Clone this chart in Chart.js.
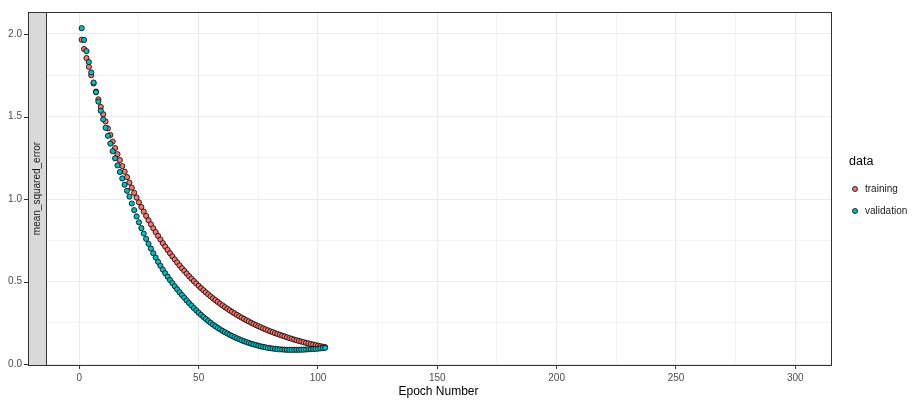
<!DOCTYPE html>
<html>
<head>
<meta charset="utf-8">
<script src="https://cdn.jsdelivr.net/npm/chart.js@4/dist/chart.umd.min.js"></script>
<style>
html, body { margin: 0; padding: 0; background: #fff; }
#wrap { width: 917px; height: 403px; }
</style>
</head>
<body>
<div id="wrap"><canvas id="chart" width="917" height="403"></canvas></div>
<script>
// values, epoch 1 .. 103
var trainingLoss = [
    1.965, 1.909, 1.854, 1.801, 1.750, 1.700, 1.651, 1.604, 1.558, 1.514,
    1.470, 1.428, 1.388, 1.348, 1.309, 1.272, 1.236, 1.200, 1.166, 1.133,
    1.100, 1.069, 1.038, 1.009, 0.980, 0.952, 0.924, 0.898, 0.872, 0.847,
    0.823, 0.800, 0.777, 0.755, 0.733, 0.712, 0.692, 0.672, 0.653, 0.634,
    0.616, 0.598, 0.581, 0.565, 0.549, 0.533, 0.518, 0.503, 0.489, 0.475,
    0.461, 0.448, 0.435, 0.423, 0.411, 0.399, 0.388, 0.377, 0.366, 0.356,
    0.345, 0.336, 0.326, 0.317, 0.308, 0.299, 0.290, 0.282, 0.274, 0.266,
    0.259, 0.251, 0.244, 0.237, 0.230, 0.224, 0.217, 0.211, 0.205, 0.199,
    0.194, 0.188, 0.183, 0.178, 0.173, 0.168, 0.163, 0.158, 0.154, 0.149,
    0.145, 0.141, 0.137, 0.133, 0.129, 0.126, 0.122, 0.119, 0.115, 0.112,
    0.109, 0.106, 0.103
];
var validationLoss = [
    2.035, 1.964, 1.896, 1.830, 1.767, 1.706, 1.647, 1.590, 1.535, 1.483,
    1.432, 1.383, 1.336, 1.290, 1.247, 1.204, 1.164, 1.125, 1.087, 1.050,
    1.015, 0.973, 0.933, 0.895, 0.859, 0.824, 0.791, 0.759, 0.729, 0.700,
    0.672, 0.646, 0.620, 0.596, 0.573, 0.551, 0.530, 0.510, 0.491, 0.472,
    0.454, 0.436, 0.419, 0.402, 0.386, 0.370, 0.355, 0.340, 0.326, 0.312,
    0.299, 0.286, 0.274, 0.262, 0.251, 0.240, 0.230, 0.220, 0.211, 0.202,
    0.194, 0.186, 0.178, 0.171, 0.164, 0.157, 0.151, 0.145, 0.139, 0.134,
    0.129, 0.124, 0.120, 0.116, 0.112, 0.108, 0.105, 0.102, 0.099, 0.097,
    0.095, 0.093, 0.091, 0.090, 0.089, 0.088, 0.087, 0.087, 0.087, 0.087,
    0.087, 0.087, 0.088, 0.088, 0.089, 0.090, 0.091, 0.092, 0.093, 0.094,
    0.096, 0.097, 0.099
];
var seriesNames = ['training', 'validation'];
var seriesColors = ['#F8766D', '#00BFC4'];
var xTicks = [0, 25, 50, 75, 100, 125, 150, 175, 200, 225, 250, 275, 300];
var yTicks = [0, 0.25, 0.5, 0.75, 1.0, 1.25, 1.5, 1.75, 2.0];
var stripLabel = 'mean_squared_error';
var xTitle = 'Epoch Number';
var legendTitle = 'data';

var FONT = '"Liberation Sans", Arial, Helvetica, sans-serif';

function toPoints(vals) {
    return vals.map(function (v, i) { return { x: i + 1, y: v }; });
}

function isMajor(v, step) {
    var r = v / step;
    return Math.abs(r - Math.round(r)) < 1e-6;
}

// strip, panel border, y tick marks and legend, ggplot style
var ggExtras = {
    id: 'ggExtras',
    afterDraw: function (chart) {
        var ctx = chart.ctx,
            area = chart.chartArea,
            yScale = chart.scales.y;
        var stripL = 28, stripR = area.left;
        ctx.save();

        // facet strip on the left
        ctx.fillStyle = '#D9D9D9';
        ctx.fillRect(stripL, area.top, stripR - stripL, area.bottom - area.top);
        ctx.strokeStyle = '#333333';
        ctx.lineWidth = 1;
        ctx.strokeRect(stripL + 0.5, area.top + 0.5, stripR - stripL, area.bottom - area.top);

        ctx.save();
        ctx.translate((stripL + stripR) / 2, (area.top + area.bottom) / 2);
        ctx.rotate(-Math.PI / 2);
        ctx.fillStyle = '#1A1A1A';
        ctx.font = '10px ' + FONT;
        ctx.textAlign = 'center';
        ctx.textBaseline = 'middle';
        ctx.fillText(stripLabel, 0, 0);
        ctx.restore();

        // panel border
        ctx.strokeRect(area.left + 0.5, area.top + 0.5, area.right - area.left, area.bottom - area.top);

        // y tick marks beside the strip
        ctx.strokeStyle = '#333333';
        yTicks.forEach(function (v) {
            if (!isMajor(v, 0.5)) return;
            var py = Math.round(yScale.getPixelForValue(v)) + 0.5;
            ctx.beginPath();
            ctx.moveTo(stripL - 4, py);
            ctx.lineTo(stripL, py);
            ctx.stroke();
        });

        // legend
        var lx = area.right + 18;
        ctx.fillStyle = '#000';
        ctx.font = '12.5px ' + FONT;
        ctx.textAlign = 'left';
        ctx.textBaseline = 'middle';
        ctx.fillText(legendTitle, lx, 162);
        ctx.font = '10px ' + FONT;
        seriesNames.forEach(function (name, i) {
            var cy = 189 + i * 22;
            ctx.beginPath();
            ctx.arc(lx + 6, cy, 2.5, 0, Math.PI * 2);
            ctx.fillStyle = seriesColors[i];
            ctx.fill();
            ctx.lineWidth = 0.8;
            ctx.strokeStyle = '#000';
            ctx.stroke();
            ctx.fillStyle = '#1A1A1A';
            ctx.fillText(name, lx + 16, cy);
        });
        ctx.restore();
    }
};

new Chart(document.getElementById('chart'), {
    type: 'scatter',
    data: {
        datasets: [
            {
                label: seriesNames[0],
                data: toPoints(trainingLoss),
                backgroundColor: seriesColors[0],
                borderColor: '#000',
                borderWidth: 0.8,
                pointRadius: 2.6,
                order: 2
            },
            {
                label: seriesNames[1],
                data: toPoints(validationLoss),
                backgroundColor: seriesColors[1],
                borderColor: '#000',
                borderWidth: 0.8,
                pointRadius: 2.6,
                order: 1
            }
        ]
    },
    options: {
        responsive: false,
        animation: false,
        devicePixelRatio: 1,
        layout: { padding: { top: 12, right: 86, left: 0, bottom: 0 } },
        plugins: {
            legend: { display: false },
            tooltip: { enabled: false }
        },
        scales: {
            x: {
                type: 'linear',
                min: -13.95,
                max: 314.95,
                afterBuildTicks: function (s) {
                    s.ticks = xTicks.map(function (v) { return { value: v }; });
                },
                afterFit: function (s) {
                    s.height = 38;
                    s.paddingLeft = 0;
                    s.paddingRight = 0;
                },
                border: { display: false },
                grid: {
                    color: '#EBEBEB',
                    lineWidth: function (c) { return c.tick && isMajor(c.tick.value, 50) ? 1.1 : 0.55; },
                    drawTicks: true,
                    tickLength: 4,
                    tickWidth: 1,
                    tickColor: function (c) { return c.tick && isMajor(c.tick.value, 50) ? '#333333' : 'rgba(0,0,0,0)'; }
                },
                ticks: {
                    autoSkip: false,
                    maxRotation: 0,
                    padding: 3,
                    color: '#4D4D4D',
                    font: { family: FONT, size: 10 },
                    callback: function (v) { return isMajor(v, 50) ? String(v) : ''; }
                },
                title: {
                    display: true,
                    text: xTitle,
                    color: '#000',
                    font: { family: FONT, size: 12 },
                    padding: { top: 2, bottom: 4 }
                }
            },
            y: {
                min: -0.005,
                max: 2.133,
                afterBuildTicks: function (s) {
                    s.ticks = yTicks.map(function (v) { return { value: v }; });
                },
                afterFit: function (s) {
                    s.width = 46;
                    s.paddingTop = 0;
                    s.paddingBottom = 0;
                },
                border: { display: false },
                grid: {
                    color: '#EBEBEB',
                    lineWidth: function (c) { return c.tick && isMajor(c.tick.value, 0.5) ? 1.1 : 0.55; },
                    drawTicks: false
                },
                ticks: {
                    autoSkip: false,
                    padding: 24,
                    color: '#4D4D4D',
                    font: { family: FONT, size: 10 },
                    callback: function (v) { return isMajor(v, 0.5) ? v.toFixed(1) : ''; }
                }
            }
        }
    },
    plugins: [ggExtras]
});
</script>
</body>
</html>
